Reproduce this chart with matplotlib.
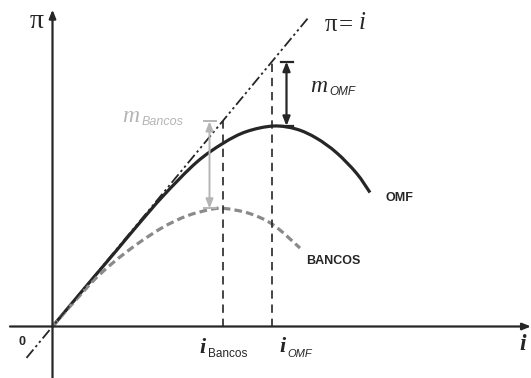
import matplotlib
matplotlib.use("Agg")
import matplotlib.pyplot as plt
from matplotlib.path import Path
from matplotlib.patches import PathPatch
import numpy as np

# ---- data (i on x, pi on y; the 45-degree reference line is pi = i) ----
omf_i  = [0, 31, 64, 84, 111, 144, 171, 194, 221, 244, 264, 284, 304, 317.5]
omf_pi = [0, 30.7, 63, 82.8, 108.5, 136, 152, 161.5, 166.1, 163.5, 156, 144, 127, 111]

bancos_i  = [0, 37.5, 60, 85, 110, 134, 157.5, 172, 197.5, 221, 247.5]
bancos_pi = [0, 35, 52.5, 68.5, 82, 91.5, 96.9, 97.8, 93.5, 84.1, 65]

line45_i = [-26, 256]          # pi = i line
i_bancos = 170                 # peak of BANCOS curve
i_omf = 219.5                  # peak of OMF curve
omf_max = 166.1
bancos_max = 97.8
m_omf_x = 234                  # where the margin arrows are drawn
m_bancos_x = 157

SY = 1.207  # pixel per pi-unit

fig = plt.figure(figsize=(5.31, 3.78), dpi=100)
ax = fig.add_axes([0, 0, 1, 1])
ax.set_xlim(-52.5, 478.5)
ax.set_ylim(-51.5 / SY, 326.5 / SY)
ax.axis("off")

dark = "#262626"
serif = "Liberation Serif"
sans = "Liberation Sans"


def smooth_path(xs, ys):
    """Catmull-Rom curve through the read points, rendered as cubic Bezier segments."""
    P = np.column_stack([xs, ys]).astype(float)
    n = len(P)
    verts = [P[0]]
    codes = [Path.MOVETO]
    for k in range(n - 1):
        p0 = P[k - 1] if k > 0 else P[k]
        p1 = P[k]
        p2 = P[k + 1]
        p3 = P[k + 2] if k + 2 < n else P[k + 1]
        c1 = p1 + (p2 - p0) / 6.0
        c2 = p2 - (p3 - p1) / 6.0
        verts += [c1, c2, p2]
        codes += [Path.CURVE4] * 3
    return Path(verts, codes)


# axes
ax.annotate("", xy=(478.5, 0), xytext=(-42.5, 0),
            arrowprops=dict(arrowstyle="-|>,head_length=0.5,head_width=0.2", lw=1.6, color=dark,
                            shrinkA=0, shrinkB=0))
ax.annotate("", xy=(0, 262.5), xytext=(0, -51.5 / SY),
            arrowprops=dict(arrowstyle="-|>,head_length=0.5,head_width=0.2", lw=1.6, color=dark,
                            shrinkA=0, shrinkB=0))

# pi = i line (dash-dot-dot)
ax.plot(line45_i, line45_i, color=dark, lw=1.3, ls=(0, (6, 1.8, 1.3, 1.8, 1.3, 1.8)))

# curves
ax.add_patch(PathPatch(smooth_path(omf_i, omf_pi), fill=False, edgecolor=dark, lw=2.3,
                       capstyle="butt"))
ax.add_patch(PathPatch(smooth_path(bancos_i, bancos_pi), fill=False, edgecolor="#8a8a8a", lw=2.3,
                       linestyle=(0, (2.4, 1.3))))

# vertical dashed lines
ax.plot([i_bancos, i_bancos], [0, i_bancos], color=dark, lw=1.2, ls=(0, (5, 3.5)))
ax.plot([i_omf, i_omf], [0, i_omf], color=dark, lw=1.2, ls=(0, (5, 3.5)))


# margin arrows
def margin_arrow(x, top, bottom, color, lw):
    ax.annotate("", xy=(x, top), xytext=(x, bottom),
                arrowprops=dict(arrowstyle="<|-|>,head_length=0.55,head_width=0.22",
                                lw=lw, color=color, shrinkA=0, shrinkB=0))
    for yy in (top, bottom):
        ax.plot([x - 6, x + 6], [yy, yy], color=color, lw=lw)


margin_arrow(m_omf_x, i_omf, omf_max, dark, 1.6)
margin_arrow(m_bancos_x, i_bancos, bancos_max, "#b5b5b5", 1.4)

# labels
ax.text(-15.8, 252.5, "π", fontsize=20, family=serif, ha="center", va="center", color=dark)
ax.text(331 - 52.5, (326.5 - 25) / SY, "π", fontsize=18, family=serif, ha="center", va="center", color=dark)
ax.text(346 - 52.5, (326.5 - 25) / SY, "=", fontsize=18, family=serif, ha="center", va="center", color=dark)
ax.text(362 - 52.5, (326.5 - 23) / SY, "i", fontsize=18, family=serif, style="italic", ha="center", va="center", color=dark)

ax.text(266, (326.5 - 86) / SY, "m", fontsize=17, family=serif, style="italic", ha="center", va="center", color=dark)
ax.text(277, (326.5 - 92) / SY, "OMF", fontsize=8.5, family=sans, style="italic", ha="left", va="center", color=dark)

ax.text(78.5, (326.5 - 116) / SY, "m", fontsize=17, family=serif, style="italic", ha="center", va="center", color="#b5b5b5")
ax.text(89, (326.5 - 122) / SY, "Bancos", fontsize=9, family=sans, style="italic", ha="left", va="center", color="#b5b5b5")

ax.text(346.5, (326.5 - 197.5) / SY, "OMF", fontsize=9, family=sans, weight="bold", ha="center", va="center", color=dark)
ax.text(281, (326.5 - 260.5) / SY, "BANCOS", fontsize=9, family=sans, weight="bold", ha="center", va="center", color=dark)

ax.text(-30.8, -12.6, "0", fontsize=9, family=sans, weight="bold", ha="center", va="center", color=dark)

ax.text(150, (326.5 - 348) / SY, "i", fontsize=16, family=serif, style="italic", weight="bold", ha="center", va="center", color=dark)
ax.text(155.5, (326.5 - 354) / SY, "Bancos", fontsize=8.5, family=sans, ha="left", va="center", color=dark)
ax.text(230, (326.5 - 347) / SY, "i", fontsize=16, family=serif, style="italic", weight="bold", ha="center", va="center", color=dark)
ax.text(234.5, (326.5 - 354) / SY, "OMF", fontsize=8, family=sans, style="italic", ha="left", va="center", color=dark)
ax.text(470.5, (326.5 - 345) / SY, "i", fontsize=17, family=serif, style="italic", weight="bold", ha="center", va="center", color=dark)

fig.savefig("out.png", dpi=100)
